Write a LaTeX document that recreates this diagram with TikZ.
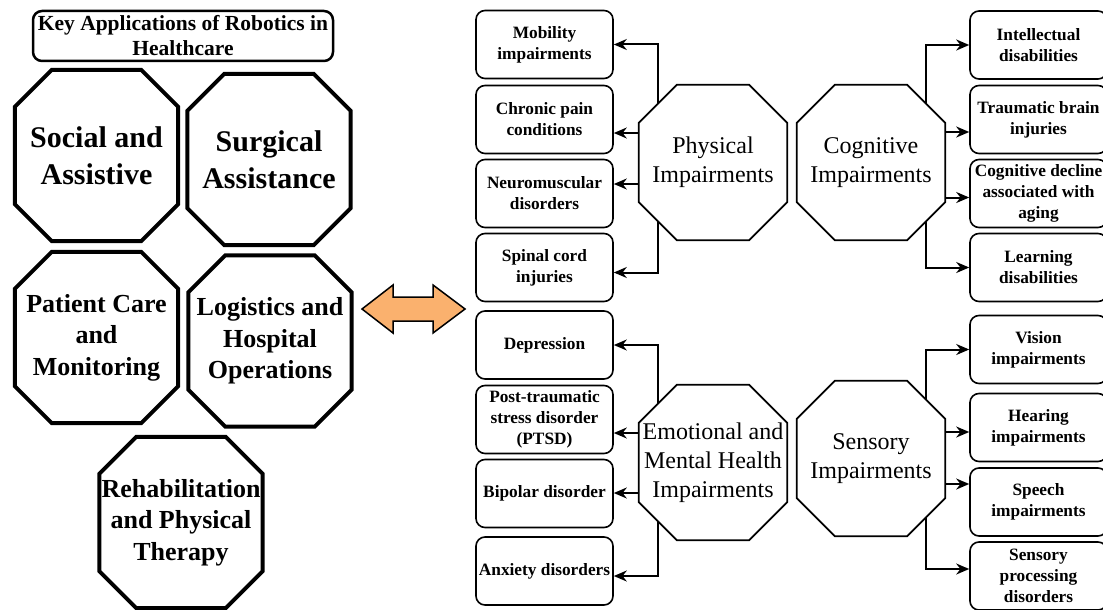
\documentclass[tikz,border=0pt]{standalone}
\usepackage{fontspec}
\setmainfont{Liberation Serif}
\usetikzlibrary{arrows.meta}
\definecolor{linkfill}{HTML}{FAB16E}
\tikzset{
  bigocto/.style={inner sep=0pt, minimum width=163pt, minimum height=171pt,
    align=center, font=\bfseries\fontsize{30}{37}\selectfont},
  octo/.style={inner sep=0pt, minimum width=148pt, minimum height=155pt,
    align=center, font=\fontsize{24}{29}\selectfont},
  item/.style={draw, rounded corners=9pt, line width=1.6pt, inner sep=0pt,
    minimum width=137pt, minimum height=68pt, align=center,
    font=\bfseries\fontsize{17.3}{21}\selectfont},
  arr/.style={line width=2pt, -{Stealth[length=13pt,width=11pt]}}
}
\begin{document}
\begin{tikzpicture}[x=1pt,y=-1pt]
  \useasboundingbox (0,0) rectangle (1103,610);
  \clip (0,0) rectangle (1103,610);

  % left: application areas
  \node[draw, rounded corners=9pt, line width=2.5pt, inner sep=0pt,
    minimum width=300pt, minimum height=50pt, align=center,
    font=\bfseries\fontsize{21.5}{25}\selectfont] (title) at (183,36)
    {Key Applications of Robotics in\\Healthcare};
  \node[bigocto] (soc) at (96.5,155.5) {Social and\\Assistive};
  \node[bigocto] (sur) at (269,159.5) {Surgical\\Assistance};
  \node[bigocto, font=\bfseries\fontsize{26}{31.5}\selectfont] (pat) at (96.5,337.5)
    {Patient Care\\and\\Monitoring};
  \node[bigocto, font=\bfseries\fontsize{26}{31.5}\selectfont] (log) at (270,341)
    {Logistics and\\Hospital\\Operations};
  \node[bigocto, font=\bfseries\fontsize{26}{31.5}\selectfont] (reh) at (181,522.5)
    {Rehabilitation\\and Physical\\Therapy};
  \foreach \n in {soc,sur,pat,log,reh}
    \draw[line width=4pt]
      ([xshift=37pt]\n.north west) -- ([xshift=-37pt]\n.north east)
      -- ([yshift=-37pt]\n.north east) -- ([yshift=37pt]\n.south east)
      -- ([xshift=-37pt]\n.south east) -- ([xshift=37pt]\n.south west)
      -- ([yshift=37pt]\n.south west) -- ([yshift=-37pt]\n.north west) -- cycle;

  % double arrow between the two halves
  \draw[line width=1.5pt, fill=linkfill]
    (362,309) -- (393,285) -- (393,297) -- (433,297) -- (433,285) -- (465,309)
    -- (433,333) -- (433,321) -- (393,321) -- (393,333) -- cycle;

  % right: impairment groups
  \node[octo] (phys) at (713,162.5) {Physical\\Impairments};
  \node[octo] (cog) at (871,162.5) {Cognitive\\Impairments};
  \node[octo] (emo) at (713,462.5) {Emotional and\\Mental Health\\Impairments};
  \node[octo] (sen) at (871,458.5) {Sensory\\Impairments};
  \foreach \n in {phys,cog,emo,sen}
    \draw[line width=1.8pt]
      ([xshift=38pt]\n.north west) -- ([xshift=-38pt]\n.north east)
      -- ([yshift=-38pt]\n.north east) -- ([yshift=38pt]\n.south east)
      -- ([xshift=-38pt]\n.south east) -- ([xshift=38pt]\n.south west)
      -- ([yshift=38pt]\n.south west) -- ([yshift=-38pt]\n.north west) -- cycle;

  \node[item] (mob) at (544.5,44.5) {Mobility\\impairments};
  \node[item] (chr) at (544.5,119.5) {Chronic pain\\conditions};
  \node[item] (neu) at (544.5,193.5) {Neuromuscular\\disorders};
  \node[item] (spi) at (544.5,267.5) {Spinal cord\\injuries};
  \node[item] (dep) at (544.5,345) {Depression};
  \node[item] (pts) at (544.5,419.5) {Post-traumatic\\stress disorder\\(PTSD)};
  \node[item] (bip) at (544.5,493.5) {Bipolar disorder};
  \node[item] (anx) at (544.5,571) {Anxiety disorders};

  \node[item] (int) at (1038.5,45) {Intellectual\\disabilities};
  \node[item] (tra) at (1038.5,119.5) {Traumatic brain\\injuries};
  \node[item] (cdec) at (1038.5,193.5) {Cognitive decline\\associated with\\aging};
  \node[item] (lea) at (1038.5,267.5) {Learning\\disabilities};
  \node[item] (vis) at (1038.5,349.5) {Vision\\impairments};
  \node[item] (hea) at (1038.5,427.5) {Hearing\\impairments};
  \node[item] (spe) at (1038.5,502) {Speech\\impairments};
  \node[item] (spr) at (1038.5,576) {Sensory\\processing\\disorders};

  % connectors
  \draw[arr] ([shift={(19pt,-19pt)}]phys.north west) |- (mob.east);
  \draw[arr] ([yshift=29.5pt]phys.west) -- ([yshift=29.5pt]phys.west -| chr.east);
  \draw[arr] ([yshift=-21.5pt]phys.west) -- ([yshift=-21.5pt]phys.west -| neu.east);
  \draw[arr] ([shift={(19pt,19pt)}]phys.south west) |- ([yshift=-5pt]spi.east);
  \draw[arr] ([shift={(-19pt,-19pt)}]cog.north east) |- (int.west);
  \draw[arr] ([yshift=30.5pt]cog.east) -- ([yshift=30.5pt]cog.east -| tra.west);
  \draw[arr] ([yshift=-35pt]cog.east) -- ([yshift=-35pt]cog.east -| cdec.west);
  \draw[arr] ([shift={(-19pt,19pt)}]cog.south east) |- (lea.west);
  \draw[arr] ([shift={(19pt,-19pt)}]emo.north west) |- (dep.east);
  \draw[arr] ([yshift=29.5pt]emo.west) -- ([yshift=29.5pt]emo.west -| pts.east);
  \draw[arr] ([yshift=-30.5pt]emo.west) -- ([yshift=-30.5pt]emo.west -| bip.east);
  \draw[arr] ([shift={(19pt,19pt)}]emo.south west) |- ([yshift=-5pt]anx.east);
  \draw[arr] ([shift={(-19pt,-19pt)}]sen.north east) |- (vis.west);
  \draw[arr] ([yshift=26.5pt]sen.east) -- ([yshift=26.5pt]sen.east -| hea.west);
  \draw[arr] ([yshift=-25.5pt]sen.east) -- ([yshift=-25.5pt]sen.east -| spe.west);
  \draw[arr] ([shift={(-19pt,19pt)}]sen.south east) |- ([yshift=7pt]spr.west);
\end{tikzpicture}
\end{document}
